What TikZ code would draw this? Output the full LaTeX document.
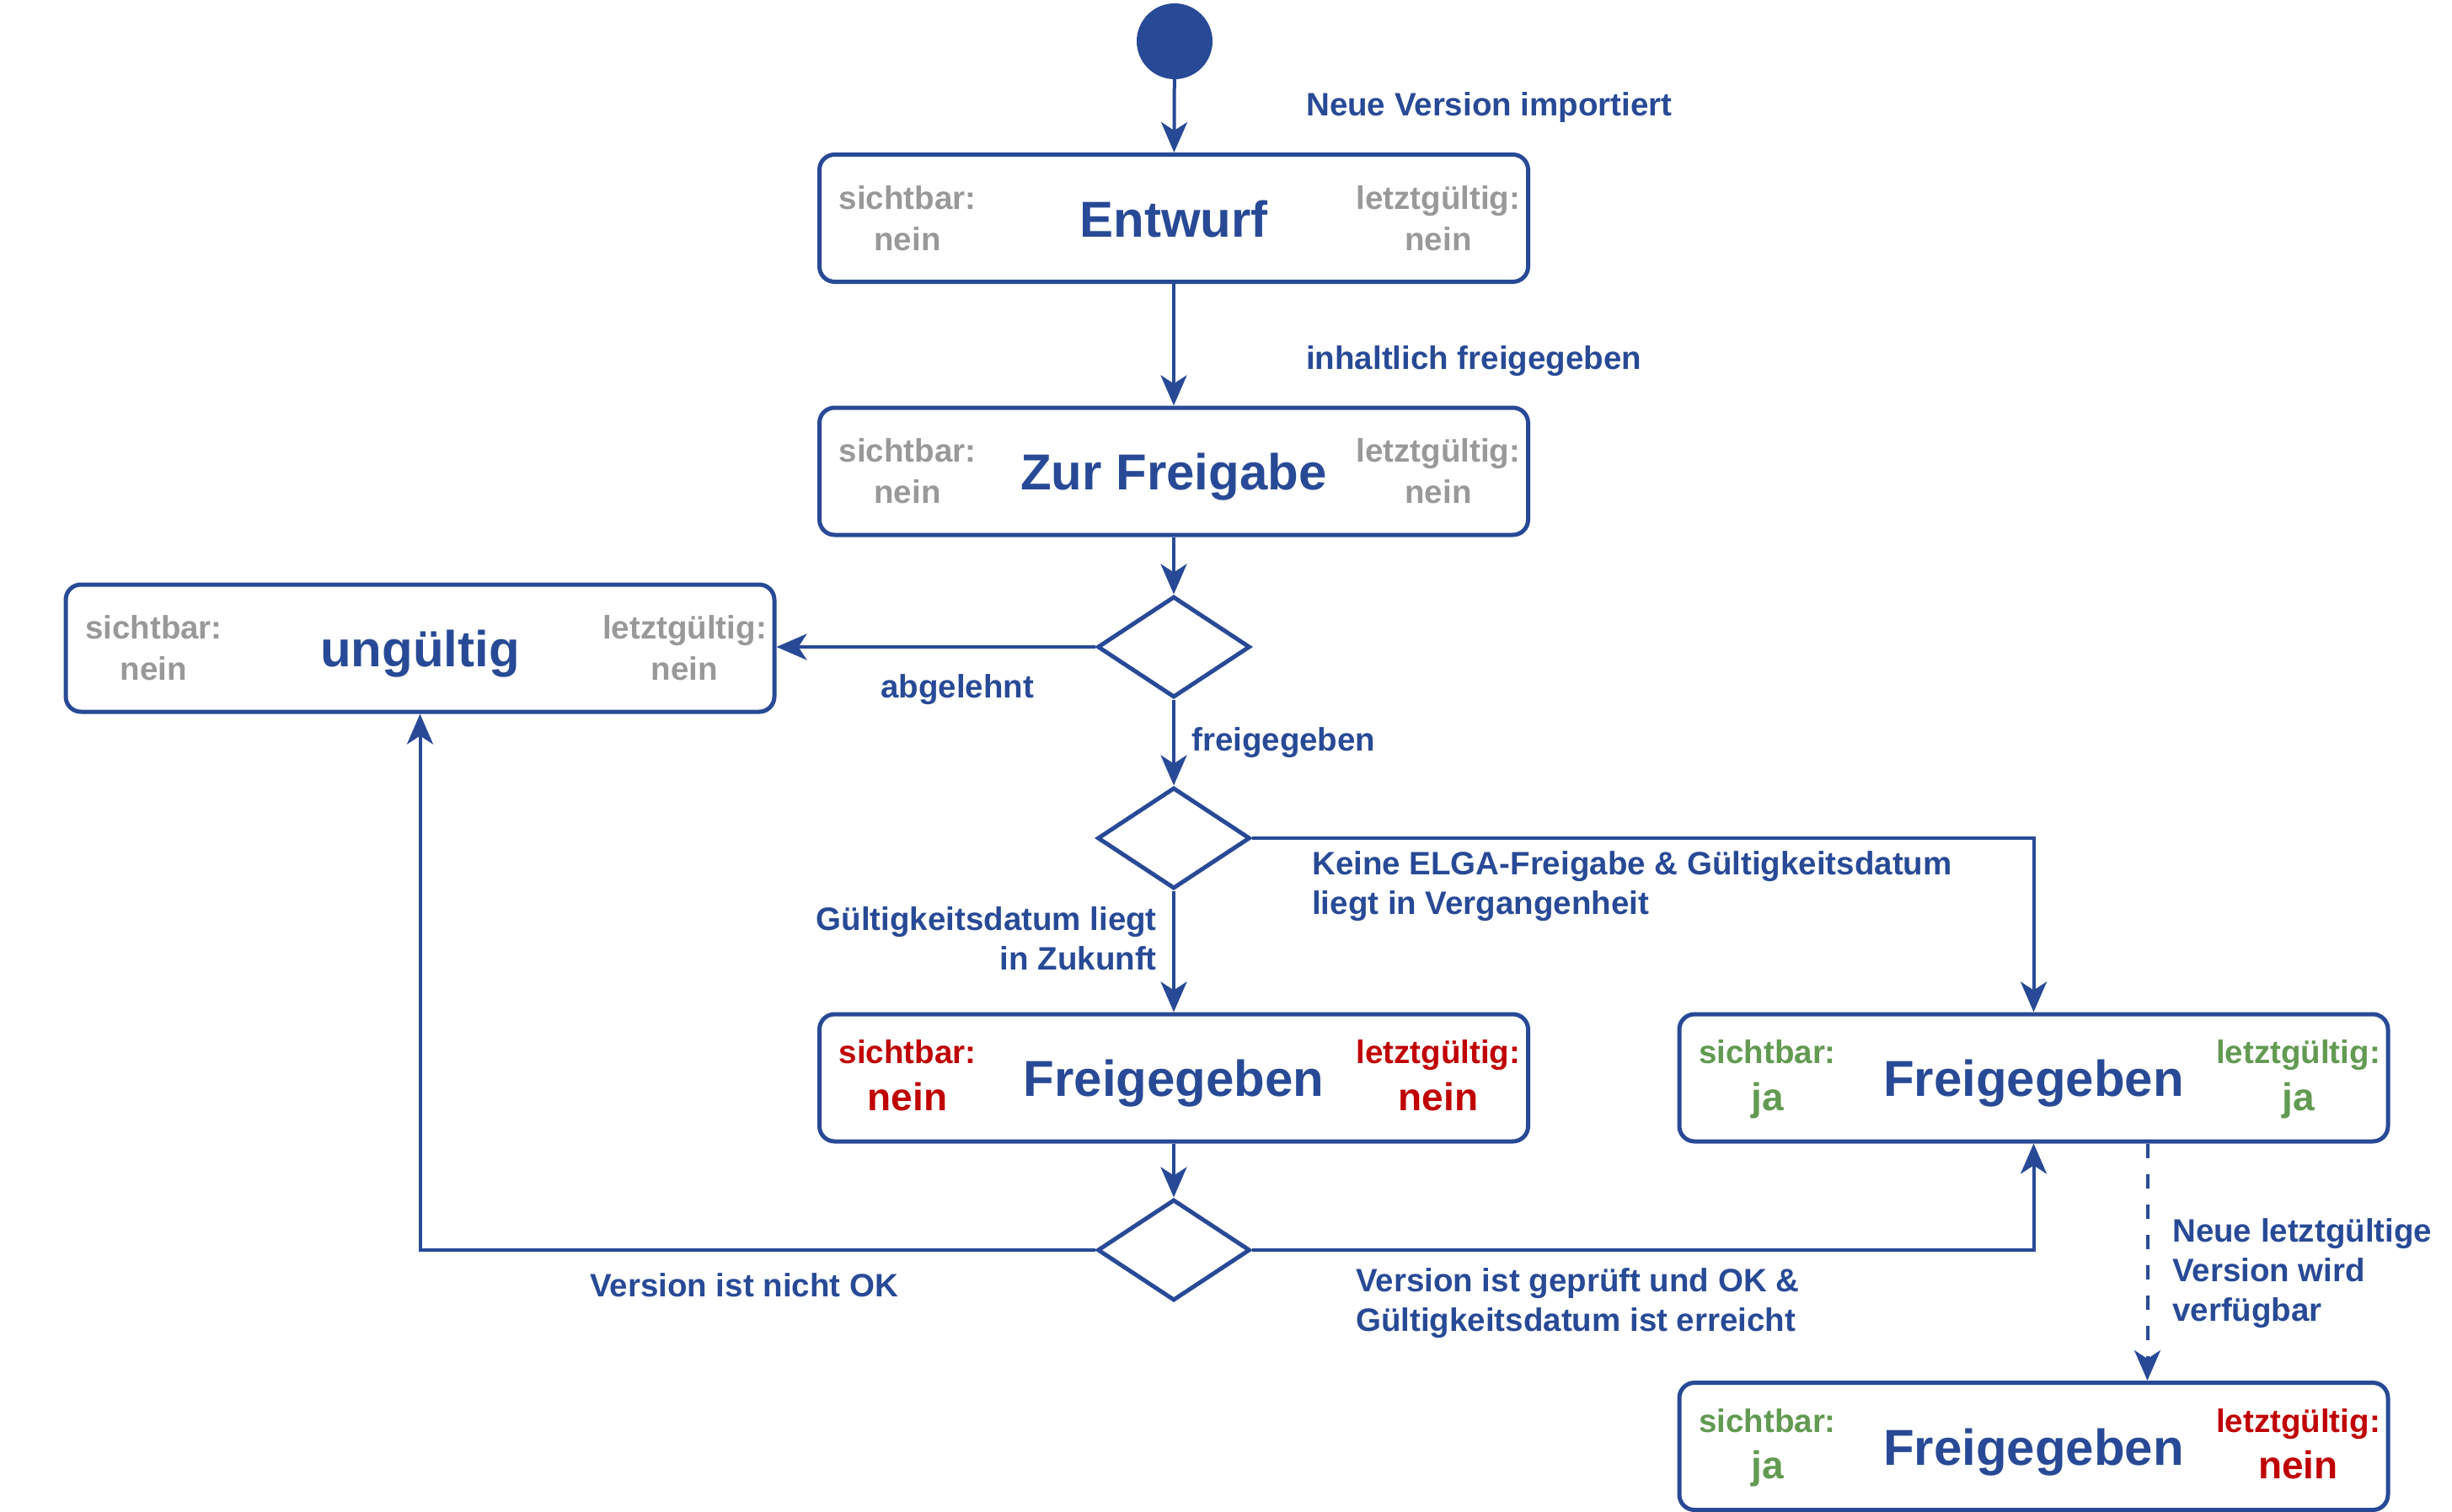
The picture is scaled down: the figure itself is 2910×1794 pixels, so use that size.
\documentclass[tikz,border=0pt]{standalone}
\usepackage{fontspec}
\setmainfont{Liberation Sans}
\usetikzlibrary{arrows.meta,shapes.geometric}
\definecolor{cblue}{RGB}{40,74,150}
\definecolor{cgray}{RGB}{153,153,153}
\definecolor{cred}{RGB}{192,0,0}
\definecolor{cgreen}{RGB}{98,154,82}
\tikzset{
  stbox/.style={draw=cblue, line width=5pt, rounded corners=18pt, fill=white,
    minimum width=841pt, minimum height=151pt, inner sep=0pt},
  dec/.style={diamond, draw=cblue, line width=5pt, fill=white,
    minimum width=181pt, minimum height=120pt, inner sep=0pt},
  arr/.style={draw=cblue, line width=4pt, -{Stealth[length=36pt,width=31pt,inset=10pt]}},
  lbl/.style={text=cblue, font=\fontsize{38.5}{47}\selectfont\bfseries, inner sep=0pt, anchor=base west},
  ttl/.style={text=cblue, font=\fontsize{60}{72}\selectfont\bfseries, inner sep=0pt, anchor=base},
  kname/.style={font=\fontsize{38.5}{46}\selectfont\bfseries, inner sep=0pt, anchor=base},
  gval/.style={font=\fontsize{38.5}{46}\selectfont\bfseries, inner sep=0pt, anchor=base},
  cval/.style={font=\fontsize{46}{54}\selectfont\bfseries, inner sep=0pt, anchor=base},
}
% name, x, y, title, left colour, left value, right colour, right value, key baseline offset
\newcommand\mkbox[9]{%
  \node[stbox] (#1) at (#2,#3) {};
  \node[ttl] (#1-t) at (#2,#3+22) {#4};
  \node[kname,text=#5] (#1-k1) at (#2-316,#3+#9) {sichtbar:};
  \node[kname,text=#7] (#1-k2) at (#2+314,#3+#9) {letztgültig:};
}
\begin{document}
\begin{tikzpicture}[x=1pt,y=-1pt]
\useasboundingbox (0,0) rectangle (2910,1794);

\node[circle, fill=cblue, minimum size=90pt, inner sep=0pt] (start) at (1394,49) {};

\mkbox{entwurf}{1393}{259}{Entwurf}{cgray}{nein}{cgray}{nein}{-11}
\node[gval,text=cgray] (entwurf-v1) at (1077,297) {nein};
\node[gval,text=cgray] (entwurf-v2) at (1707,297) {nein};

\mkbox{zurfrei}{1393}{559.5}{Zur Freigabe}{cgray}{nein}{cgray}{nein}{-11}
\node[gval,text=cgray] (zurfrei-v1) at (1077,597.5) {nein};
\node[gval,text=cgray] (zurfrei-v2) at (1707,597.5) {nein};

\mkbox{ungueltig}{498.5}{769.5}{ungültig}{cgray}{nein}{cgray}{nein}{-11}
\node[gval,text=cgray] (ungueltig-v1) at (182.5,807.5) {nein};
\node[gval,text=cgray] (ungueltig-v2) at (812.5,807.5) {nein};

\mkbox{freiA}{1393}{1279.5}{Freigegeben}{cred}{nein}{cred}{nein}{-17}
\node[cval,text=cred] (freiA-v1) at (1077,1318) {nein};
\node[cval,text=cred] (freiA-v2) at (1707,1318) {nein};

\mkbox{freiB}{2413.5}{1279.5}{Freigegeben}{cgreen}{ja}{cgreen}{ja}{-17}
\node[cval,text=cgreen] (freiB-v1) at (2097.5,1318) {ja};
\node[cval,text=cgreen] (freiB-v2) at (2727.5,1318) {ja};

\mkbox{freiC}{2413.5}{1717}{Freigegeben}{cgreen}{ja}{cred}{nein}{-17}
\node[cval,text=cgreen] (freiC-v1) at (2097.5,1755.5) {ja};
\node[cval,text=cred] (freiC-v2) at (2727.5,1755.5) {nein};

\node[dec] (d1) at (1393,768) {};
\node[dec] (d2) at (1393,995) {};
\node[dec] (d3) at (1393,1484) {};

\draw[arr] (start) -- (entwurf);
\draw[arr] (entwurf) -- (zurfrei);
\draw[arr] (zurfrei) -- (d1);
\draw[arr] (d1.west) -- (d1.west -| ungueltig.east);
\draw[arr] (d1) -- (d2);
\draw[arr] (d2) -- (freiA);
\draw[arr] (d2.east) -| (freiB.north);
\draw[arr] (freiA) -- (d3);
\draw[arr] (d3.west) -| (ungueltig.south);
\draw[arr] (d3.east) -| (freiB.south);
\draw[arr, dashed, dash pattern=on 17pt off 19pt] ([xshift=135pt]freiB.south) -- ([xshift=135pt]freiC.north);

\node[lbl] (l1) at (1550,137) {Neue Version importiert};
\node[lbl] (l2) at (1550,438) {inhaltlich freigegeben};
\node[lbl] (l3) at (1045,828) {abgelehnt};
\node[lbl] (l4) at (1414,891) {freigegeben};
\node[lbl, align=left] (l5) at (1557,1085) {Keine ELGA-Freigabe \& Gültigkeitsdatum\\liegt in Vergangenheit};
\node[lbl, align=right, anchor=base east] (l6) at (1373,1151) {Gültigkeitsdatum liegt\\in Zukunft};
\node[lbl] (l7) at (700,1539) {Version ist nicht OK};
\node[lbl, align=left] (l8) at (1609,1580) {Version ist geprüft und OK \&\\Gültigkeitsdatum ist erreicht};
\node[lbl, align=left] (l9) at (2578,1568) {Neue letztgültige\\Version wird\\verfügbar};
\end{tikzpicture}
\end{document}
